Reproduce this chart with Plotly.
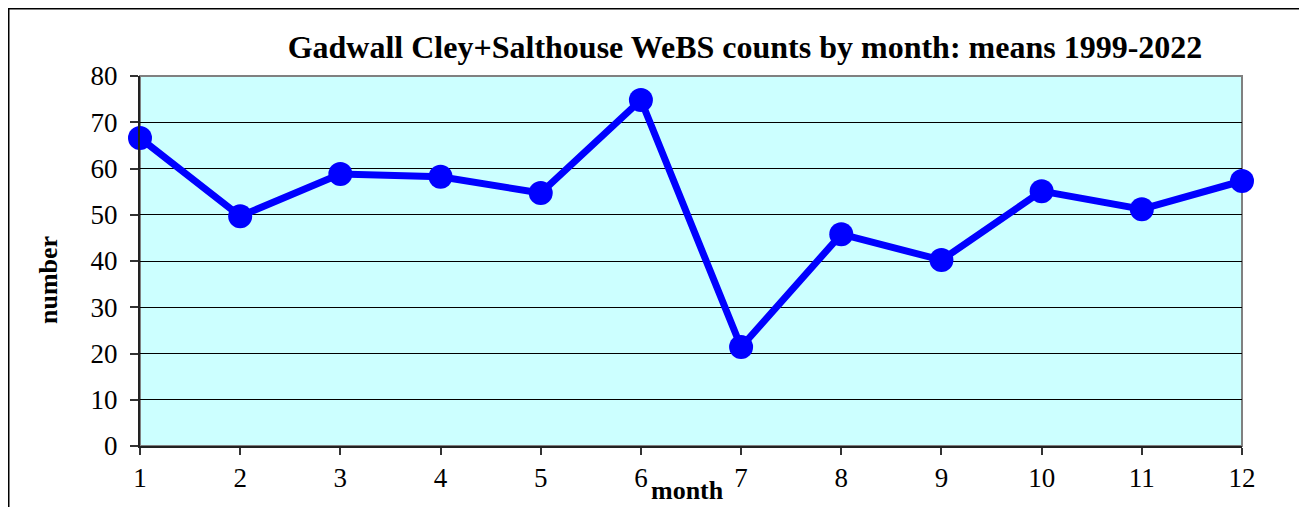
import plotly.graph_objects as go

months = [1, 2, 3, 4, 5, 6, 7, 8, 9, 10, 11, 12]
means = [66.6, 49.7, 58.8, 58.2, 54.7, 74.8, 21.4, 45.8, 40.2, 55.1, 51.2, 57.3]
y_ticks = [0, 10, 20, 30, 40, 50, 60, 70, 80]

title_text = "Gadwall Cley+Salthouse WeBS counts by month: means 1999-2022"
font_family = "Liberation Serif, Times New Roman, serif"

# page offset of 8px (body margin) is compensated in figure coordinates
W, H = 1299, 499
L, R, T, B = 132, 65, 68, 61
PW, PH = W - L - R, H - T - B

fig = go.Figure()
fig.add_trace(go.Scatter(
    x=months, y=means, mode="lines+markers",
    line=dict(color="#0000FF", width=7),
    marker=dict(color="#0000FF", size=24),
    showlegend=False, cliponaxis=False,
))

fig.update_layout(
    width=W, height=H,
    margin=dict(l=L, r=R, t=T, b=B),
    paper_bgcolor="white",
    plot_bgcolor="#CCFFFF",
    font=dict(family=font_family, size=27, color="black"),
    xaxis=dict(
        range=[1, 12], tickmode="array", tickvals=months,
        ticks="outside", ticklen=7, tickcolor="#333333", tickwidth=1.5,
        showline=True, linecolor="#222222", linewidth=2,
        showgrid=False, zeroline=False,
        ticklabelstandoff=0,
        tickfont=dict(family=font_family, size=27),
    ),
    yaxis=dict(
        range=[0, 80], tickmode="array", tickvals=y_ticks,
        ticks="outside", ticklen=8, tickcolor="#333333", tickwidth=1.5,
        showline=True, linecolor="#222222", linewidth=2,
        showgrid=True, gridcolor="black", gridwidth=1,
        zeroline=False,
        ticklabelstandoff=7,
        tickfont=dict(family=font_family, size=27),
    ),
    title=dict(
        text="<b>" + title_text + "</b>",
        x=(745 - 140) / PW, xref="paper", xanchor="center",
        y=1 - 39 / H, yref="container", yanchor="middle",
        font=dict(family=font_family, size=32, color="black"),
    ),
    shapes=[
        dict(type="rect", xref="paper", yref="paper",
             x0=(0.75 - L) / PW, x1=(1295 - L) / PW,
             y0=-1.0, y1=(H - 0.75 - B) / PH,
             line=dict(color="black", width=1.5), fillcolor="rgba(0,0,0,0)", layer="below"),
        dict(type="rect", xref="x domain", yref="y domain",
             x0=0, x1=1, y0=0, y1=1,
             line=dict(color="#808080", width=2), fillcolor="rgba(0,0,0,0)", layer="below"),
    ],
    annotations=[
        dict(text="<b>month</b>", xref="paper", yref="paper",
             x=(687 - 140) / PW, y=-(490 - 446) / PH,
             xanchor="center", yanchor="middle", showarrow=False,
             font=dict(family=font_family, size=26, color="black")),
        dict(text="<b>number</b>", xref="paper", yref="paper",
             x=-(140 - 48) / PW, y=(446 - 280) / PH,
             xanchor="center", yanchor="middle", showarrow=False, textangle=-90,
             font=dict(family=font_family, size=26, color="black")),
    ],
)

fig.write_html("out.html")
